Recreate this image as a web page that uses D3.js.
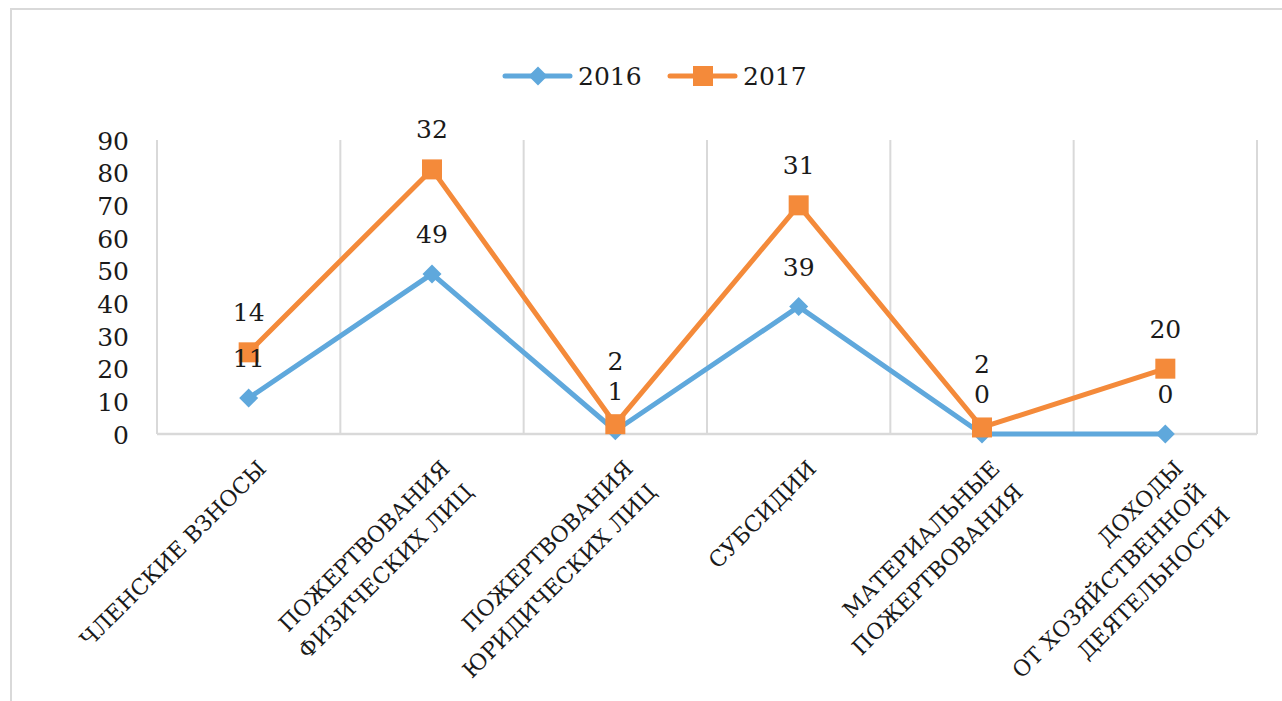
<!DOCTYPE html>
<html>
<head>
<meta charset="utf-8">
<style>
    body { margin: 0; background: #fff; }
    svg text { font-family: "DejaVu Serif", serif; fill: #1a1a1a; }
</style>
</head>
<body>
<svg width="1282" height="701"></svg>
<script src="https://cdn.jsdelivr.net/npm/d3@7/dist/d3.min.js"></script>
<script>

    // data (stacked line: 2017 drawn on top of 2016)
    var categories = [
        ["ЧЛЕНСКИЕ ВЗНОСЫ"],
        ["ПОЖЕРТВОВАНИЯ", "ФИЗИЧЕСКИХ ЛИЦ"],
        ["ПОЖЕРТВОВАНИЯ", "ЮРИДИЧЕСКИХ ЛИЦ"],
        ["СУБСИДИИ"],
        ["МАТЕРИАЛЬНЫЕ", "ПОЖЕРТВОВАНИЯ"],
        ["ДОХОДЫ", "ОТ ХОЗЯЙСТВЕННОЙ", "ДЕЯТЕЛЬНОСТИ"]
    ];
    var values2016 = [11, 49, 1, 39, 0, 0];
    var values2017 = [14, 32, 2, 31, 2, 20];
    var yTicks = [0, 10, 20, 30, 40, 50, 60, 70, 80, 90];

    var blue = "#5fa8dc",
        orange = "#f48a3a",
        grid = "#d9d9d9";

    var svg = d3.select("svg"),
        margin = { top: 140, left: 157, right: 25, bottom: 267 },
        width = 1282 - margin.left - margin.right,
        height = 701 - margin.top - margin.bottom;

    // chart frame
    svg.append("path")
        .attr("d", "M11,701V9H1282")
        .attr("fill", "none")
        .attr("stroke", grid)
        .attr("stroke-width", 2);

    var g = svg.append("g").attr("transform", "translate(" + margin.left + "," + margin.top + ")");

    var x = d3.scaleBand()
        .domain(d3.range(categories.length))
        .range([0, width]);

    var y = d3.scaleLinear()
        .domain([0, 90])
        .range([height, 0]);

    // vertical gridlines at category boundaries
    g.selectAll(".vgrid")
        .data(d3.range(categories.length + 1))
        .enter().append("line")
        .attr("x1", d => d * x.step())
        .attr("x2", d => d * x.step())
        .attr("y1", 0)
        .attr("y2", height)
        .attr("stroke", grid)
        .attr("stroke-width", 2);

    // x axis line
    g.append("line")
        .attr("x1", 0).attr("x2", width)
        .attr("y1", height).attr("y2", height)
        .attr("stroke", grid)
        .attr("stroke-width", 2.5);

    // y axis labels
    var yAxis = g.append("g")
        .call(d3.axisLeft(y).tickValues(yTicks).tickSize(0).tickPadding(28));
    yAxis.select(".domain").remove();
    yAxis.selectAll("text")
        .style("font-family", "DejaVu Serif")
        .style("font-size", "25px")
        .attr("fill", "#1a1a1a")
        .attr("dy", "0.36em");

    // category labels, rotated, lines aligned at their end
    var catLab = g.selectAll(".cat")
        .data(categories)
        .enter().append("text")
        .attr("class", "cat")
        .attr("transform", (d, i) => "translate(" + (x(i) + x.bandwidth() / 2 + 19) + "," + (height + 36) + ") rotate(-45)")
        .attr("text-anchor", "end")
        .style("font-size", "22px");
    catLab.selectAll("tspan")
        .data(d => d)
        .enter().append("tspan")
        .attr("x", 0)
        .attr("y", (d, i) => i * 33)
        .text(d => d);

    var cx = i => x(i) + x.bandwidth() / 2;
    var stacked2017 = values2017.map((v, i) => v + values2016[i]);

    var line = d3.line()
        .x((d, i) => cx(i))
        .y(d => y(d));

    g.append("path")
        .datum(values2016)
        .attr("fill", "none")
        .attr("stroke", blue)
        .attr("stroke-width", 5)
        .attr("stroke-linejoin", "round")
        .attr("stroke-linecap", "round")
        .attr("d", line);

    g.selectAll(".m2016")
        .data(values2016)
        .enter().append("path")
        .attr("transform", (d, i) => "translate(" + cx(i) + "," + y(d) + ")")
        .attr("d", d3.symbol().type(d3.symbolDiamond2).size(230))
        .attr("fill", blue);

    g.append("path")
        .datum(stacked2017)
        .attr("fill", "none")
        .attr("stroke", orange)
        .attr("stroke-width", 5)
        .attr("stroke-linejoin", "round")
        .attr("stroke-linecap", "round")
        .attr("d", line);

    g.selectAll(".m2017")
        .data(stacked2017)
        .enter().append("rect")
        .attr("x", (d, i) => cx(i) - 10)
        .attr("y", d => y(d) - 10)
        .attr("width", 20)
        .attr("height", 20)
        .attr("fill", orange);

    // data labels, 40px above the point; 2017 label pushed up if it would overlap the 2016 one
    var lab2016 = values2016.map(v => y(v) - 40);
    var lab2017 = stacked2017.map((v, i) => Math.min(y(v) - 40, lab2016[i] - 30));

    g.selectAll(".l2016")
        .data(values2016)
        .enter().append("text")
        .attr("x", (d, i) => cx(i))
        .attr("y", (d, i) => lab2016[i])
        .attr("dy", "0.36em")
        .attr("text-anchor", "middle")
        .style("font-size", "25px")
        .text(d => d);

    g.selectAll(".l2017")
        .data(values2017)
        .enter().append("text")
        .attr("x", (d, i) => cx(i))
        .attr("y", (d, i) => lab2017[i])
        .attr("dy", "0.36em")
        .attr("text-anchor", "middle")
        .style("font-size", "25px")
        .text(d => d);

    // legend
    var legend = svg.append("g").attr("transform", "translate(0,76)");
    var series = [
        { name: "2016", color: blue, x: 505, marker: "diamond" },
        { name: "2017", color: orange, x: 670, marker: "square" }
    ];
    series.forEach(s => {
        legend.append("line")
            .attr("x1", s.x).attr("x2", s.x + 65)
            .attr("y1", 0).attr("y2", 0)
            .attr("stroke", s.color)
            .attr("stroke-width", 5)
            .attr("stroke-linecap", "round");
        if (s.marker === "diamond") {
            legend.append("path")
                .attr("transform", "translate(" + (s.x + 33) + ",0)")
                .attr("d", d3.symbol().type(d3.symbolDiamond2).size(230))
                .attr("fill", s.color);
        } else {
            legend.append("rect")
                .attr("x", s.x + 23).attr("y", -10)
                .attr("width", 20).attr("height", 20)
                .attr("fill", s.color);
        }
        legend.append("text")
            .attr("x", s.x + 73)
            .attr("y", 0)
            .attr("dy", "0.36em")
            .style("font-size", "25px")
            .text(s.name);
    });

</script>
</body>
</html>
